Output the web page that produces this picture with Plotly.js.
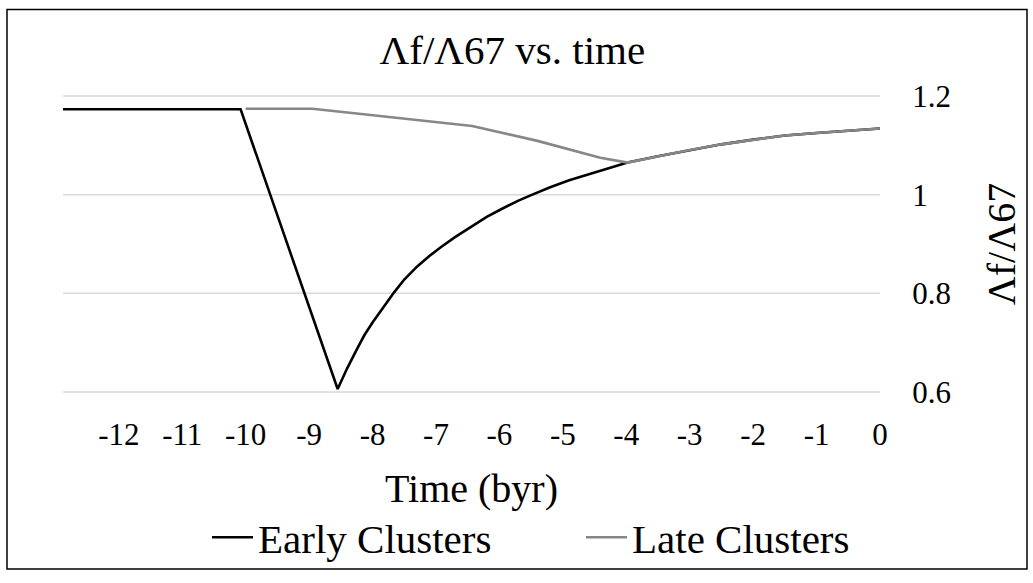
<!DOCTYPE html>
<html>
<head>
<meta charset="utf-8">
<script src="https://cdn.plot.ly/plotly-3.0.1.min.js"></script>
<style>
html,body{margin:0;padding:0;background:#fff;}
#chart{width:1033px;height:583px;}
</style>
</head>
<body>
<div id="chart"></div>
<script>
// Early Clusters
var earlyX = [-12.88, -10.08, -8.55, -8.4, -8.25, -8.13, -8.0, -7.85, -7.66, -7.5, -7.3, -7.1, -6.93, -6.7, -6.45, -6.2, -5.95, -5.7, -5.5, -5.2, -4.9, -4.6, -4.3, -3.98, -3.5, -3.02, -2.5, -1.97, -1.5, -1.0, -0.5, 0];
var earlyY = [1.173, 1.173, 0.606, 0.648, 0.686, 0.715, 0.741, 0.769, 0.802, 0.828, 0.854, 0.876, 0.893, 0.914, 0.935, 0.955, 0.972, 0.988, 0.999, 1.015, 1.029, 1.041, 1.053, 1.065, 1.078, 1.09, 1.102, 1.112, 1.120, 1.125, 1.130, 1.134];
// Late Clusters
var lateX = [-10.0, -8.95, -8.14, -7.6, -6.93, -6.43, -5.4, -4.83, -4.41, -3.98, -3.5, -3.02, -2.5, -1.97, -1.5, -1.0, -0.5, 0];
var lateY = [1.174, 1.174, 1.163, 1.155, 1.146, 1.139, 1.109, 1.089, 1.075, 1.065, 1.078, 1.09, 1.102, 1.112, 1.120, 1.125, 1.130, 1.134];
var xTicks = [-12, -11, -10, -9, -8, -7, -6, -5, -4, -3, -2, -1, 0];
var yTicks = [0.6, 0.8, 1, 1.2];
var yTickText = ['0.6', '0.8', '1', '1.2'];

var FONT = '"Liberation Serif", "Times New Roman", "DejaVu Serif", serif';

var traces = [
  {x: earlyX, y: earlyY, type: 'scatter', mode: 'lines', name: 'Early Clusters',
   line: {color: '#000000', width: 2.6}},
  {x: lateX, y: lateY, type: 'scatter', mode: 'lines', name: 'Late Clusters',
   line: {color: '#878787', width: 2.6}}
];

// horizontal gridlines at each y tick (drawn under the data)
var gridShapes = yTicks.map(function (v) {
  return {type: 'line', xref: 'paper', yref: 'y', x0: 0, x1: 1, y0: v, y1: v,
          line: {color: '#d9d9d9', width: 1.5}, layer: 'below'};
});

var layout = {
  width: 1033, height: 583,
  margin: {l: 63, r: 153, t: 95, b: 185, pad: 0},
  paper_bgcolor: '#ffffff', plot_bgcolor: '#ffffff',
  font: {family: FONT, color: '#000000', size: 31},
  title: {text: 'Λf/Λ67 vs. time', font: {family: FONT, size: 41, color: '#000'},
          xref: 'container', yref: 'container', x: 0.496, y: 0.914, xanchor: 'center', yanchor: 'middle'},
  xaxis: {
    range: [-12.88, 0], tickvals: xTicks, ticktext: xTicks.map(String),
    showgrid: false, zeroline: false, showline: false,
    ticks: 'outside', ticklen: 14, tickcolor: 'rgba(0,0,0,0)',
    tickfont: {family: FONT, size: 31},
    title: {text: 'Time (byr)', font: {family: FONT, size: 40}, standoff: 22}
  },
  yaxis: {
    side: 'right', range: [0.598, 1.202], tickvals: yTicks, ticktext: yTickText,
    showgrid: false,
    zeroline: false, showline: false,
    ticks: 'outside', ticklen: 25, tickcolor: 'rgba(0,0,0,0)',
    tickfont: {family: FONT, size: 31},
    title: {text: 'Λf/Λ67', font: {family: FONT, size: 40}, standoff: 37}
  },
  showlegend: true,
  legend: {orientation: 'h', x: (207 - 63) / 817, xanchor: 'left', y: -0.485, yanchor: 'middle',
           font: {family: FONT, size: 41}, bgcolor: 'rgba(0,0,0,0)',
           itemwidth: 41, entrywidth: 318, entrywidthmode: 'pixels'},
  shapes: gridShapes.concat([
    {type: 'rect', xref: 'paper', yref: 'paper',
     x0: (7 - 63) / 817, x1: (1027 - 63) / 817,
     y0: (398 - 577) / 303, y1: (398 - 8) / 303,
     line: {color: '#000000', width: 1.5}, fillcolor: 'rgba(0,0,0,0)', layer: 'below'}
  ])
};

Plotly.newPlot('chart', traces, layout, {displayModeBar: false, staticPlot: true});
</script>
</body>
</html>
